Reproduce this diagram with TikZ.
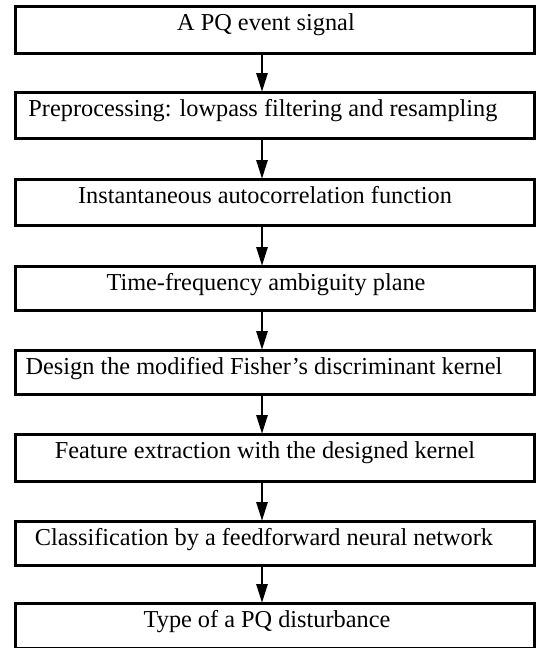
\documentclass[tikz,border=0pt]{standalone}
\usepackage{fontspec}
\setmainfont{Liberation Serif}
\usetikzlibrary{arrows.meta}
\begin{document}
\begin{tikzpicture}[x=1pt,y=-1pt,
  stepbox/.style={draw=black, line width=2.5pt, rectangle, inner sep=0pt,
    minimum width=519pt, anchor=north west},
  lbl/.style={anchor=base, inner sep=0pt, font=\fontsize{24.3}{29}\selectfont},
  arr/.style={line width=2.8pt, -{Triangle[length=19pt,width=11pt]}, shorten >=-1pt}]
\useasboundingbox (0,0) rectangle (536,648);
\coordinate (ax) at (262,0);
% boxes
\node[stepbox, minimum height=47pt] (b1) at (14,5) {};
\node[stepbox, minimum height=46pt] (b2) at (14,91) {};
\node[stepbox, minimum height=46pt] (b3) at (14,178) {};
\node[stepbox, minimum height=44pt] (b4) at (14,265) {};
\node[stepbox, minimum height=44pt] (b5) at (14,349) {};
\node[stepbox, minimum height=47pt] (b6) at (14,433) {};
\node[stepbox, minimum height=44pt] (b7) at (14,520) {};
\node[stepbox, minimum height=45pt] (b8) at (14,602) {};
% labels
\node[lbl] (t1) at (266,30) {A PQ event signal};
\node[lbl] (t2) at (263,116) {Preprocessing: lowpass filtering and resampling};
\node[lbl] (t3) at (265,203) {Instantaneous autocorrelation function};
\node[lbl] (t4) at (266,290) {Time-frequency ambiguity plane};
\node[lbl] (t5) at (264,374) {Design the modified Fisher’s discriminant kernel};
\node[lbl] (t6) at (265,458) {Feature extraction with the designed kernel};
\node[lbl] (t7) at (264,545) {Classification by a feedforward neural network};
\node[lbl] (t8) at (267,627) {Type of a PQ disturbance};
% arrows
\draw[arr] (b1.south -| ax) -- (b2.north -| ax);
\draw[arr] (b2.south -| ax) -- (b3.north -| ax);
\draw[arr] (b3.south -| ax) -- (b4.north -| ax);
\draw[arr] (b4.south -| ax) -- (b5.north -| ax);
\draw[arr] (b5.south -| ax) -- (b6.north -| ax);
\draw[arr] (b6.south -| ax) -- (b7.north -| ax);
\draw[arr] (b7.south -| ax) -- (b8.north -| ax);
\end{tikzpicture}
\end{document}
